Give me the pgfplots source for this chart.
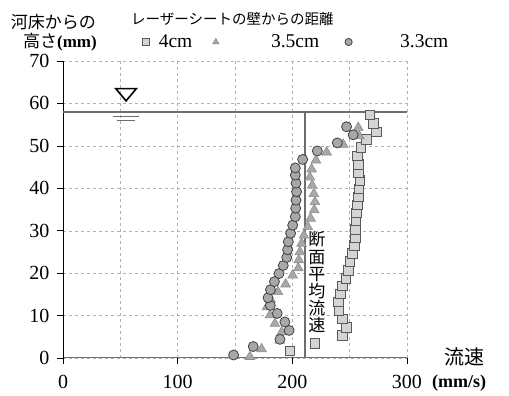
\documentclass[border=0pt]{standalone}
\usepackage{fontspec}
\setmainfont{Liberation Serif}
\newfontfamily\cjk{Noto Sans CJK JP}
\usepackage{pgfplots}
\pgfplotsset{compat=1.18}
\definecolor{sqfill}{HTML}{D4D4D4}
\definecolor{sqedge}{HTML}{5A5A5A}
\definecolor{trfill}{HTML}{A8A8A8}
\definecolor{tredge}{HTML}{8C8C8C}
\definecolor{cifill}{HTML}{A8A8A8}
\definecolor{ciedge}{HTML}{404040}
\definecolor{refline}{HTML}{6E6E6E}
\begin{document}
\begin{tikzpicture}
\begin{axis}[
  at={(63pt,38pt)}, anchor=south west,
  scale only axis, width=344pt, height=297pt,
  xmin=0, xmax=300, ymin=0, ymax=70,
  axis x line*=bottom, axis y line*=left,
  x axis line style={draw=refline, line width=1pt},
  y axis line style={draw=black, line width=0.6pt},
  xtick={0,100,200,300}, minor xtick={50,150,250},
  ytick={0,10,...,70},
  tick align=outside, major tick length=6pt, minor tick length=0pt,
  tick style={black, line width=0.6pt},
  grid=both,
  major grid style={gray!60, dashed, line width=0.4pt},
  minor grid style={gray!60, dashed, line width=0.4pt},
  /pgf/number format/assume math mode=true,
  tick label style={font=\fontsize{20}{22}\selectfont},
  xticklabel style={yshift=-8pt},
  yticklabel style={xshift=-4pt},
  clip=false,
  legend columns=3,
  legend style={draw=none, fill=none, at={(0.222,1.064)}, anchor=west,
    font=\fontsize{19.5}{21}\selectfont,
    /tikz/every even column/.append style={column sep=20pt}},
  legend image code/.code={\draw[#1,mark size=3.6pt] plot coordinates {(0.2cm,0cm)};},
]
% water level and mean velocity lines
\addplot[refline, line width=1.5pt, forget plot] coordinates {(0,58) (300,58)};
\addplot[refline, line width=1.5pt, forget plot] coordinates {(211,0) (211,58)};
% 4cm
\addplot[only marks, mark=square*, mark size=4.8pt,
  mark options={fill=sqfill, draw=sqedge, line width=0.8pt}] coordinates {
(197.9,1.7)(219.7,3.5)(243.5,5.3)(247.3,7.2)(243.8,9.2)(240.6,11.1)(240,13.2)(242.1,15.1)(243.8,17.0)(246.7,18.8)(248.8,20.7)(250.2,22.7)(252.3,24.7)(254,26.5)(255.2,28.4)(255.2,30.3)(255.4,32.4)(256,34.2)(256.6,36.1)(257.5,38.0)(258,39.9)(258.9,41.8)(257.5,43.7)(257.5,45.7)(256.6,47.6)(259.8,49.6)(264.7,51.5)(273.4,53.3)(270.5,55.3)(267.7,57.3)
};
\addlegendentry{\hspace{7pt}\makebox[32pt][l]{4cm}}
% 3.5cm
\addplot[only marks, mark=triangle*, mark size=5.6pt,
  mark options={fill=trfill, draw=tredge, line width=0.6pt}] coordinates {
(163,0.3)(173.2,2.1)(189,4.2)(190.7,6.1)(184.8,8.1)(180.5,10.1)(177.8,12.0)(181,13.8)(187.4,15.6)(194.1,17.4)(200.3,19.5)(205.2,21.2)(205.6,23.1)(206.6,25.0)(208.1,27.0)(210.1,28.9)(213.5,30.9)(215.9,32.9)(219.1,34.9)(219.7,36.8)(218.8,38.7)(217.3,40.7)(215.3,42.6)(216.8,44.5)(220.6,46.6)(229.9,48.5)(244.4,50.3)(258.4,52.3)(257.5,54.3)
};
\addlegendentry{\hspace{50pt}\makebox[52pt][l]{3.5cm}}
% 3.3cm
\addplot[only marks, mark=*, mark size=5pt,
  mark options={fill=cifill, draw=ciedge, line width=0.8pt}] coordinates {
(148.8,0.7)(165.9,2.7)(189.2,4.4)(197.2,6.5)(193.5,8.5)(186.8,10.5)(180.8,12.4)(178.8,14.2)(180.9,16.1)(184.4,18.0)(188.4,19.9)(192.1,21.8)(195.1,23.7)(195.9,25.5)(196.5,27.4)(198.5,29.4)(200.3,31.3)(202.6,33.3)(202.9,35.3)(203.2,37.2)(203.7,39.2)(203.2,41.2)(202.6,43.1)(202.6,44.8)(209,46.8)(221.8,48.8)(239.2,50.7)(253.1,52.6)(247.3,54.5)
};
\addlegendentry{\hspace{46pt}\makebox[52pt][l]{3.3cm}}
% water surface symbol
\draw[black, line width=1.6pt, line join=miter]
  (axis cs:46,63.5) -- (axis cs:64,63.5) -- (axis cs:55,60.6) -- cycle;
\draw[refline, line width=0.8pt] (axis cs:44,56.9) -- (axis cs:66,56.9);
\draw[refline, line width=0.8pt] (axis cs:47,55.9) -- (axis cs:63,55.9);
% vertical label
\node[anchor=north, font=\cjk\fontsize{17}{17.2}\selectfont, align=center, inner sep=0pt]
  at (axis cs:221.5,29.8) {断\\面\\平\\均\\流\\速};
\end{axis}
% outer texts
\node[anchor=east, font=\cjk\fontsize{17}{18}\selectfont, inner sep=0pt] at (96pt,374pt) {河床からの};
\node[anchor=east, font=\fontsize{17}{18}\selectfont, inner sep=0pt] at (97pt,354pt) {{\cjk 高さ}\textbf{(mm)}};
\node[anchor=west, font=\cjk\fontsize{14.5}{15.5}\selectfont, inner sep=0pt] at (131pt,377pt) {レーザーシートの壁からの距離};
\node[anchor=center, font=\cjk\fontsize{20}{21}\selectfont, inner sep=0pt] at (464pt,39pt) {流速};
\node[anchor=west, font=\bfseries\fontsize{18}{19}\selectfont, inner sep=0pt] at (432pt,13pt) {(mm/s)};
\pgfresetboundingbox
\path (0,0) rectangle (509pt,396pt);
\end{tikzpicture}
\end{document}
